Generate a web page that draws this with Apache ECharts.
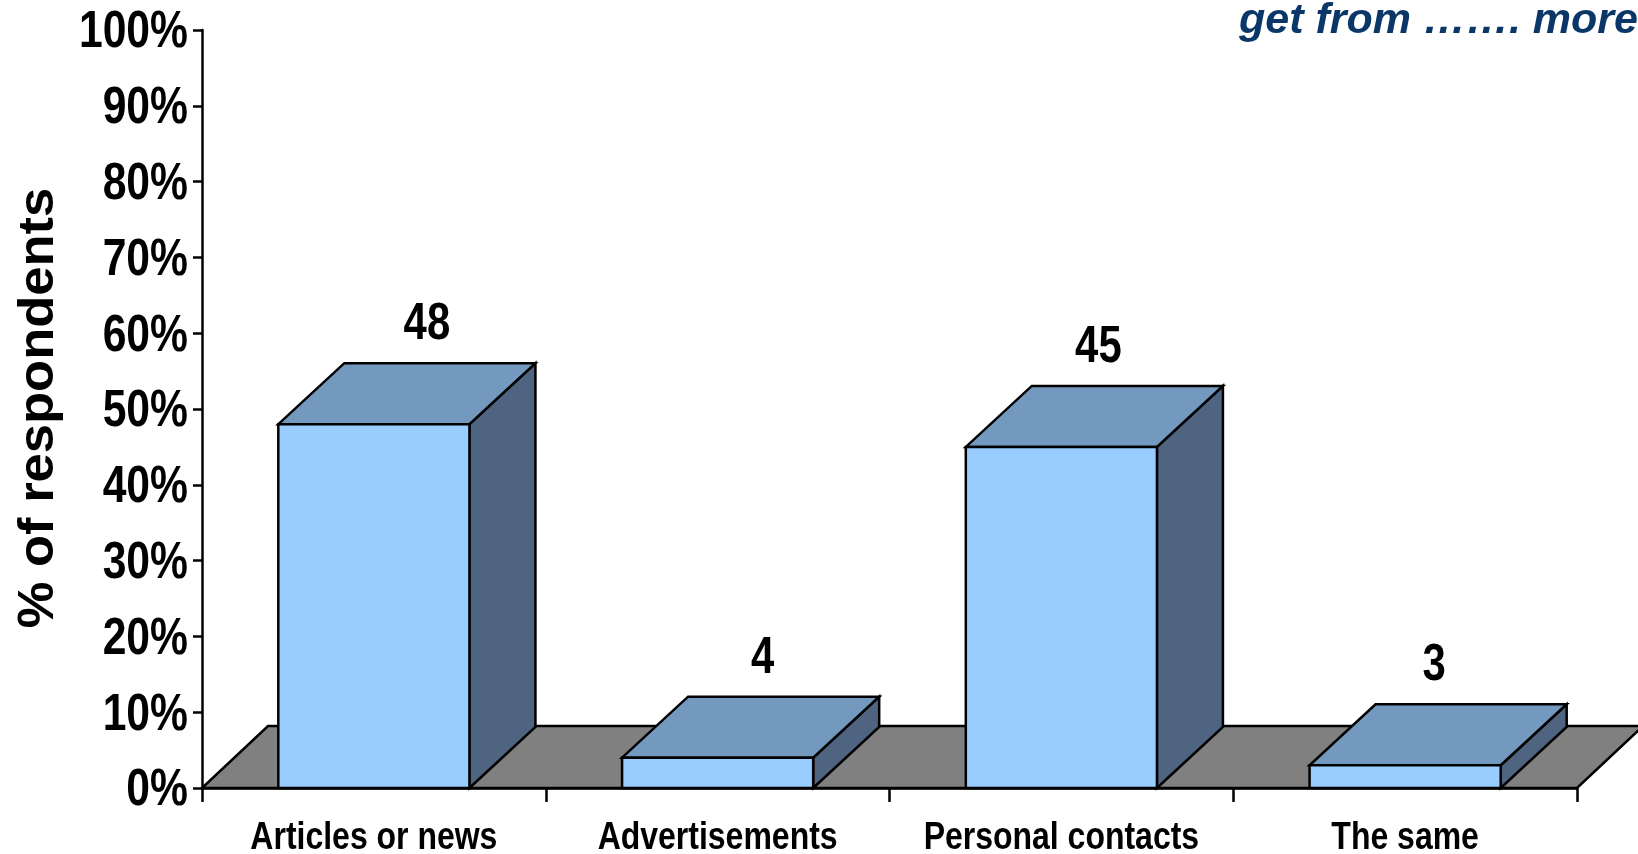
<!DOCTYPE html>
<html>
<head>
<meta charset="utf-8">
<script src="https://cdn.jsdelivr.net/npm/echarts@6/dist/echarts.min.js"></script>
<style>
html,body{margin:0;padding:0;background:#fff;}
#chart{width:1638px;height:854px;}
</style>
</head>
<body>
<div id="chart"></div>
<script>
const categories = ['Articles or news', 'Advertisements', 'Personal contacts', 'The same'];
const values = [48, 4, 45, 3];
const yTicks = [0, 10, 20, 30, 40, 50, 60, 70, 80, 90, 100];
const titleText = 'get from \u2026\u2026. more';
const yAxisTitle = '% of respondents';

const FONT = "'Liberation Sans', Arial, sans-serif";
const NARROW = 0.82;
const FRONT = '#99CCFF', TOP = '#7399BF', SIDE = '#4F6481', FLOOR = '#808080';
const DX = 66, DY = 61;
const LW = 2.5;

const chart = echarts.init(document.getElementById('chart'));
chart.setOption({
  backgroundColor: '#ffffff',
  animation: false,
  title: {
    text: titleText,
    right: 0,
    top: 0,
    padding: 0,
    textStyle: {fontFamily: FONT, fontStyle: 'italic', fontWeight: 'bold', fontSize: 43, color: '#0B3768'}
  },
  graphic: [{
    type: 'text',
    x: 39, y: 408,
    rotation: Math.PI / 2,
    scaleX: 1.05,
    style: {text: yAxisTitle, fontFamily: FONT, fontWeight: 'bold', fontSize: 50, fill: '#000',
            align: 'center', verticalAlign: 'middle'}
  }],
  grid: {left: 202, right: 61, top: 30, bottom: 66, containLabel: false},
  xAxis: {
    type: 'category',
    data: categories,
    boundaryGap: true,
    axisLine: {lineStyle: {color: '#000', width: LW}},
    axisTick: {show: true, interval: 0, length: 14, alignWithLabel: false, lineStyle: {color: '#000', width: LW}},
    axisLabel: {show: false}
  },
  yAxis: {
    type: 'value',
    min: yTicks[0], max: yTicks[yTicks.length - 1], interval: 10,
    axisLine: {show: true, lineStyle: {color: '#000', width: LW}},
    axisTick: {show: true, length: 9, lineStyle: {color: '#000', width: LW}},
    splitLine: {show: false},
    axisLabel: {show: false}
  },
  series: [
    {
      type: 'custom',
      z: 1,
      silent: true,
      data: [[0, 0]],
      renderItem: function (params, api) {
        const cs = params.coordSys;
        const yb = cs.y + cs.height;
        const x0 = cs.x, x1 = cs.x + cs.width;
        return {
          type: 'polygon',
          shape: {points: [[x0, yb], [x1, yb], [x1 + DX, yb - DY - 1], [x0 + DX, yb - DY - 1]]},
          style: {fill: FLOOR, stroke: '#000', lineWidth: LW}
        };
      }
    },
    {
      type: 'custom',
      z: 2,
      data: values.map(function (v, i) { return [i, v]; }),
      renderItem: function (params, api) {
        const idx = api.value(0), v = api.value(1);
        const top = api.coord([idx, v]);
        const base = api.coord([idx, 0]);
        const bw = api.size([1, 0])[0] * 0.556;
        const xa = top[0] - bw / 2, xb = top[0] + bw / 2;
        const yt = top[1], yb = base[1];
        const labelShift = 53 - 8 * idx;
        return {
          type: 'group',
          children: [
            {type: 'polygon', shape: {points: [[xb, yb], [xb + DX, yb - DY], [xb + DX, yt - DY], [xb, yt]]},
             style: {fill: SIDE, stroke: '#000', lineWidth: LW, lineJoin: 'miter'}},
            {type: 'polygon', shape: {points: [[xa, yt], [xb, yt], [xb + DX, yt - DY], [xa + DX, yt - DY]]},
             style: {fill: TOP, stroke: '#000', lineWidth: LW, lineJoin: 'miter'}},
            {type: 'rect', shape: {x: xa, y: yt, width: bw, height: yb - yt},
             style: {fill: FRONT, stroke: '#000', lineWidth: LW}},
            {type: 'text', x: top[0] + labelShift, y: yt - 99, scaleX: NARROW,
             style: {text: String(v), align: 'center', verticalAlign: 'middle',
                     fontFamily: FONT, fontWeight: 'bold', fontSize: 51, fill: '#000'}}
          ]
        };
      }
    },
    {
      type: 'custom',
      name: 'y labels',
      z: 3,
      silent: true,
      data: yTicks.map(function (t) { return [0, t]; }),
      renderItem: function (params, api) {
        const p = api.coord([0, api.value(1)]);
        return {
          type: 'text', x: params.coordSys.x - 14, y: p[1] + 3, scaleX: NARROW,
          style: {text: api.value(1) + '%', align: 'right', verticalAlign: 'middle',
                  fontFamily: FONT, fontWeight: 'bold', fontSize: 52, fill: '#000'}
        };
      }
    },
    {
      type: 'custom',
      name: 'x labels',
      z: 3,
      silent: true,
      data: categories.map(function (c, i) { return [i, 0]; }),
      renderItem: function (params, api) {
        const i = api.value(0);
        const p = api.coord([i, 0]);
        return {
          type: 'text', x: p[0], y: p[1] + 50, scaleX: NARROW,
          style: {text: categories[i], align: 'center', verticalAlign: 'middle',
                  fontFamily: FONT, fontWeight: 'bold', fontSize: 39, fill: '#000'}
        };
      }
    }
  ]
});
</script>
</body>
</html>
